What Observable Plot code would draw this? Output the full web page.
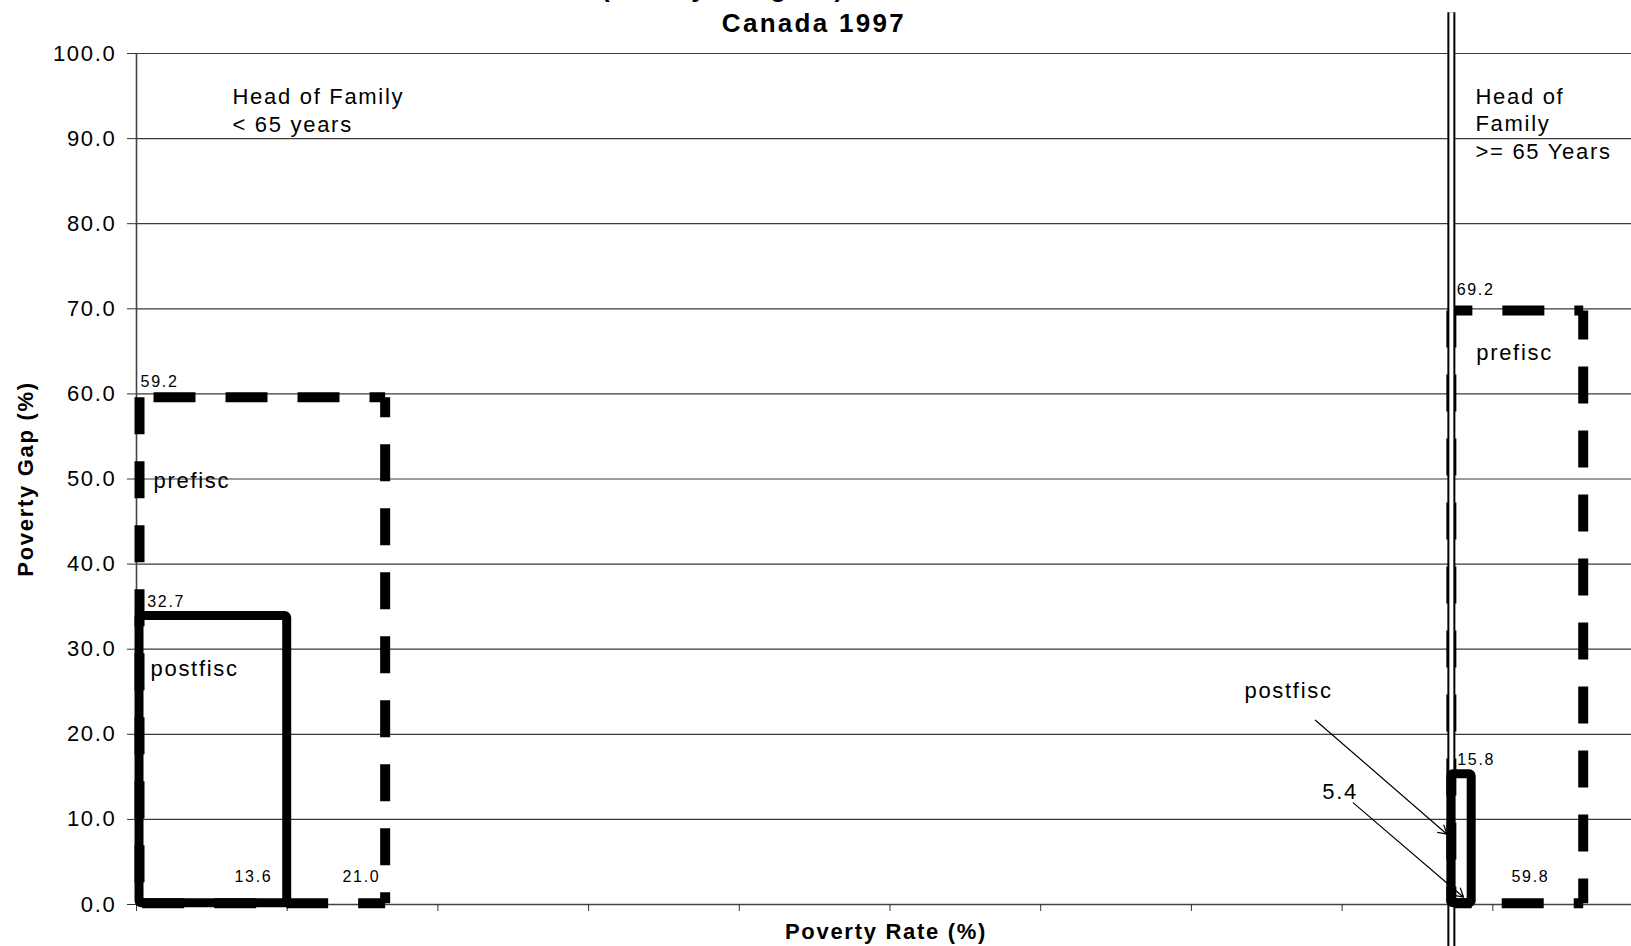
<!DOCTYPE html>
<html>
<head>
<meta charset="utf-8">
<script src="https://cdn.jsdelivr.net/npm/d3@7"></script>
<script src="https://cdn.jsdelivr.net/npm/@observablehq/plot@0.6"></script>
<style>
html, body { margin: 0; padding: 0; background: #fff; overflow: hidden; width: 1631px; height: 946px; }
#wrap { position: relative; width: 1631px; height: 946px; overflow: hidden; }
#chart { position: absolute; left: 0; top: 0; width: 1660px; }
#chart svg { max-width: none !important; }
.title { position: absolute; left: 0; width: 1628px; text-align: center; font-family: "Liberation Sans", Arial, sans-serif;
  font-weight: bold; font-size: 26px; line-height: 26px; letter-spacing: 2.3px; color: #000; white-space: nowrap; }
</style>
</head>
<body>
<div id="wrap">
  <div id="chart"></div>
  <div class="title" style="top:-25px; left:601px; width:auto; text-align:left;">(Family Weights)</div>
  <div class="title" style="top:10px;">Canada 1997</div>
</div>
<script>
// ---------- data ----------
const yTicks = [0, 10, 20, 30, 40, 50, 60, 70, 80, 90, 100];
const xTicks = [0, 10, 20, 30, 40, 50, 60, 70, 80, 90];
const groupBoundary = 87.25;

const boxGroup  = ["< 65", "< 65", ">= 65", ">= 65"];
const boxSeries = ["prefisc", "postfisc", "prefisc", "postfisc"];
const boxX0     = [0.2, 0.2, 87.25, 87.25];
const boxX1     = [16.5, 10.0, 96.0, 88.6];
const boxTop    = [59.6, 33.9, 69.8, 15.3];
const boxBottom = [0.15, 0.15, 0.15, 0.15];

const valueLabels = ["59.2", "32.7", "13.6", "21.0", "69.2", "15.8", "59.8"];
const valueX = [0.27, 0.71, 6.5, 13.67, 87.6, 87.64, 91.24];
const valueY = [60.8, 35.0, 2.66, 2.66, 71.6, 16.37, 2.62];

const seriesLabels = ["prefisc", "postfisc", "postfisc", "5.4", "prefisc"];
const seriesLabelX = [1.13, 0.93, 73.52, 78.68, 88.9];
const seriesLabelY = [48.9, 26.8, 24.24, 12.37, 63.96];

const groupLabels = ["Head of Family\n< 65 years", "Head of\nFamily\n>= 65 Years"];
const groupLabelX = [6.37, 88.85];
const groupLabelY = [90.75, 87.58];

const arrowX1 = [78.23, 80.74];
const arrowY1 = [21.66, 11.94];
const arrowX2 = [86.96, 88.06];
const arrowY2 = [8.26, 0.86];

const xTitle = "Poverty Rate (%)";
const yTitle = "Poverty Gap (%)";

// ---------- styles ----------
const dashOffsets = {
  0: {top: 58, right: 17, bottom: 15, left: 0},
  2: {top: 21, right: 8, bottom: 32.5, left: 0}
};

// ---------- build ----------
const idx = d3.range(boxSeries.length);
const pre = idx.filter(i => boxSeries[i] === "prefisc");
const post = idx.filter(i => boxSeries[i] === "postfisc");
const sides = ["top", "right", "bottom", "left"];
function edge(i, side) {
  if (side === "top") return {x1: boxX0[i], y1: boxTop[i], x2: boxX1[i], y2: boxTop[i]};
  if (side === "right") return {x1: boxX1[i], y1: boxTop[i], x2: boxX1[i], y2: boxBottom[i]};
  if (side === "bottom") return {x1: boxX1[i], y1: boxBottom[i], x2: boxX0[i], y2: boxBottom[i]};
  return {x1: boxX0[i], y1: boxTop[i], x2: boxX0[i], y2: boxBottom[i]};
}
const dashedMarks = pre.flatMap(i => sides.map(side => {
  const horiz = side === "top" || side === "bottom";
  return Plot.link([edge(i, side)], {
    x1: "x1", y1: "y1", x2: "x2", y2: "y2",
    stroke: "#000", strokeWidth: 10,
    strokeDasharray: horiz ? "42,30" : "37,27",
    strokeDashoffset: dashOffsets[i][side],
    strokeLinecap: "butt"
  });
}));

const chart = Plot.plot({
  width: 1660,
  height: 946,
  marginLeft: 136,
  marginRight: 17,
  marginTop: 53,
  marginBottom: 42,
  x: {domain: [0, 100], axis: null},
  y: {domain: [0, 100], axis: null},
  style: {
    fontFamily: "'Liberation Sans', Arial, sans-serif",
    fontSize: "22px",
    letterSpacing: "1.7px",
    color: "#000",
    background: "#fff",
    maxWidth: "none",
    width: "1660px",
    height: "946px"
  },
  marks: [
    Plot.ruleY(yTicks.filter(d => d > 0), {stroke: "#3a3a3a", strokeWidth: 1.2}),
    Plot.ruleY([0], {stroke: "#444", strokeWidth: 1.6}),
    Plot.ruleX([0], {y1: 0, y2: 100, stroke: "#444", strokeWidth: 1.6}),
    Plot.axisY({ticks: yTicks, tickFormat: d => d.toFixed(1), tickSize: 9, tickPadding: 11, fontSize: 22, stroke: "#333", label: null}),
    Plot.axisX({ticks: xTicks, tickFormat: () => "", tickSize: 7, stroke: "#333", label: null}),
    ...dashedMarks,
    Plot.ruleX([groupBoundary], {y1: -5, y2: 104.8, stroke: "#000", strokeWidth: 8}),
    Plot.ruleX([groupBoundary], {y1: -5, y2: 104.8, stroke: "#fff", strokeWidth: 4}),
    Plot.rect(post, {
      x1: i => boxX0[i], x2: i => boxX1[i], y1: i => boxBottom[i], y2: i => boxTop[i],
      fill: "none", stroke: "#000", strokeWidth: 9, rx: 2
    }),
    Plot.arrow(d3.range(arrowX1.length), {
      x1: i => arrowX1[i], y1: i => arrowY1[i], x2: i => arrowX2[i], y2: i => arrowY2[i],
      stroke: "#000", strokeWidth: 1.2, headLength: 12
    }),
    Plot.text(valueLabels, {
      x: (d, i) => valueX[i], y: (d, i) => valueY[i], text: d => d,
      textAnchor: "start", lineAnchor: "bottom", fontSize: 16, fill: "#000"
    }),
    Plot.text(seriesLabels, {
      x: (d, i) => seriesLabelX[i], y: (d, i) => seriesLabelY[i], text: d => d,
      textAnchor: "start", lineAnchor: "bottom", fontSize: 22, fill: "#000"
    }),
    Plot.text(groupLabels, {
      x: (d, i) => groupLabelX[i], y: (d, i) => groupLabelY[i], text: d => d,
      textAnchor: "start", lineAnchor: "bottom", lineHeight: 1.26, fontSize: 22, fill: "#000"
    }),
    Plot.text([yTitle], {
      frameAnchor: "left", dx: -111, rotate: -90, textAnchor: "middle", lineAnchor: "middle",
      fontSize: 22, fontWeight: "bold", letterSpacing: "0.3px", fill: "#000"
    }),
    Plot.text([xTitle], {
      frameAnchor: "bottom", dx: -4, dy: 34, textAnchor: "middle", lineAnchor: "bottom",
      fontSize: 22, fontWeight: "bold", fill: "#000"
    })
  ]
});
document.getElementById("chart").appendChild(chart);
</script>
</body>
</html>
